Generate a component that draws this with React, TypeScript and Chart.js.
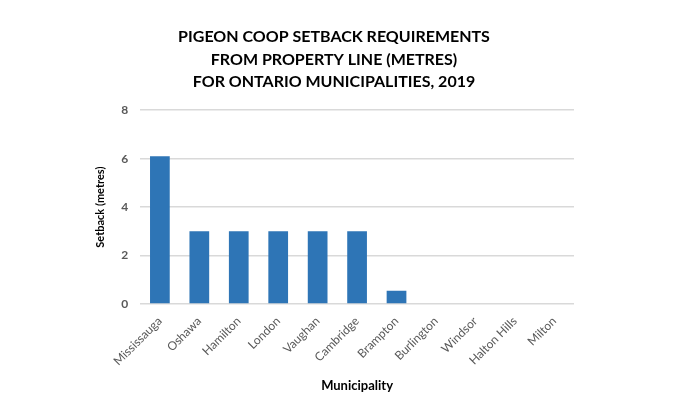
import React, { useEffect, useRef } from "react";
import { Chart, registerables } from "chart.js";

Chart.register(...registerables);

const titleLines = [
  "PIGEON COOP SETBACK REQUIREMENTS",
  "FROM PROPERTY LINE (METRES)",
  "FOR ONTARIO MUNICIPALITIES, 2019",
];
const municipalities = [
  "Mississauga",
  "Oshawa",
  "Hamilton",
  "London",
  "Vaughan",
  "Cambridge",
  "Brampton",
  "Burlington",
  "Windsor",
  "Halton Hills",
  "Milton",
];
const setbackMetres = [6.1, 3, 3, 3, 3, 3, 0.55, 0, 0, 0, 0];
const yTicks = [0, 2, 4, 6, 8];

export default function App() {
  const ref = useRef<HTMLCanvasElement | null>(null);
  useEffect(() => {
    if (!ref.current) return;
    const font = "Lato, 'Open Sans', sans-serif";
    const chart = new Chart(ref.current, {
      type: "bar",
      data: {
        labels: municipalities,
        datasets: [
          {
            label: "Setback (metres)",
            data: setbackMetres,
            backgroundColor: "#2e75b6",
            borderWidth: 0,
            categoryPercentage: 1,
            barPercentage: 0.5,
          },
        ],
      },
      options: {
        animation: false,
        responsive: false,
        maintainAspectRatio: false,
        layout: { padding: { left: 94, right: 124, top: 26, bottom: 3 } },
        plugins: {
          legend: { display: false },
          tooltip: { enabled: false },
          title: {
            display: true,
            text: titleLines,
            color: "#000000",
            font: { family: font, size: 16, weight: "bold", lineHeight: 1.4 },
            padding: { top: 0, bottom: 17 },
          },
        },
        scales: {
          x: {
            grid: { display: false },
            border: { display: false },
            ticks: {
              color: "#595959",
              font: { family: font, size: 12 },
              minRotation: 45,
              maxRotation: 45,
              padding: 2,
            },
            title: {
              display: true,
              text: "Municipality",
              color: "#000000",
              font: { family: font, size: 13, weight: "bold" },
              padding: { top: 8, bottom: 0 },
            },
          },
          y: {
            min: 0,
            max: 8,
            afterBuildTicks: (axis: any) => {
              axis.ticks = yTicks.map((v) => ({ value: v }));
            },
            grid: { color: "#d9d9d9", lineWidth: 1.5, drawTicks: false },
            border: { display: false },
            ticks: {
              color: "#595959",
              font: { family: font, size: 12, weight: "bold" },
              padding: 12,
            },
            title: {
              display: true,
              text: "Setback (metres)",
              color: "#000000",
              font: { family: font, size: 11, weight: "bold" },
              padding: { top: 0, bottom: 2 },
            },
          },
        },
      },
    });
    return () => chart.destroy();
  }, []);
  return (
    <div style={{ position: "absolute", left: 0, top: 0, width: 698, height: 397, background: "#fff" }}>
      <canvas ref={ref} width={698} height={397} style={{ width: 698, height: 397 }} />
    </div>
  );
}
